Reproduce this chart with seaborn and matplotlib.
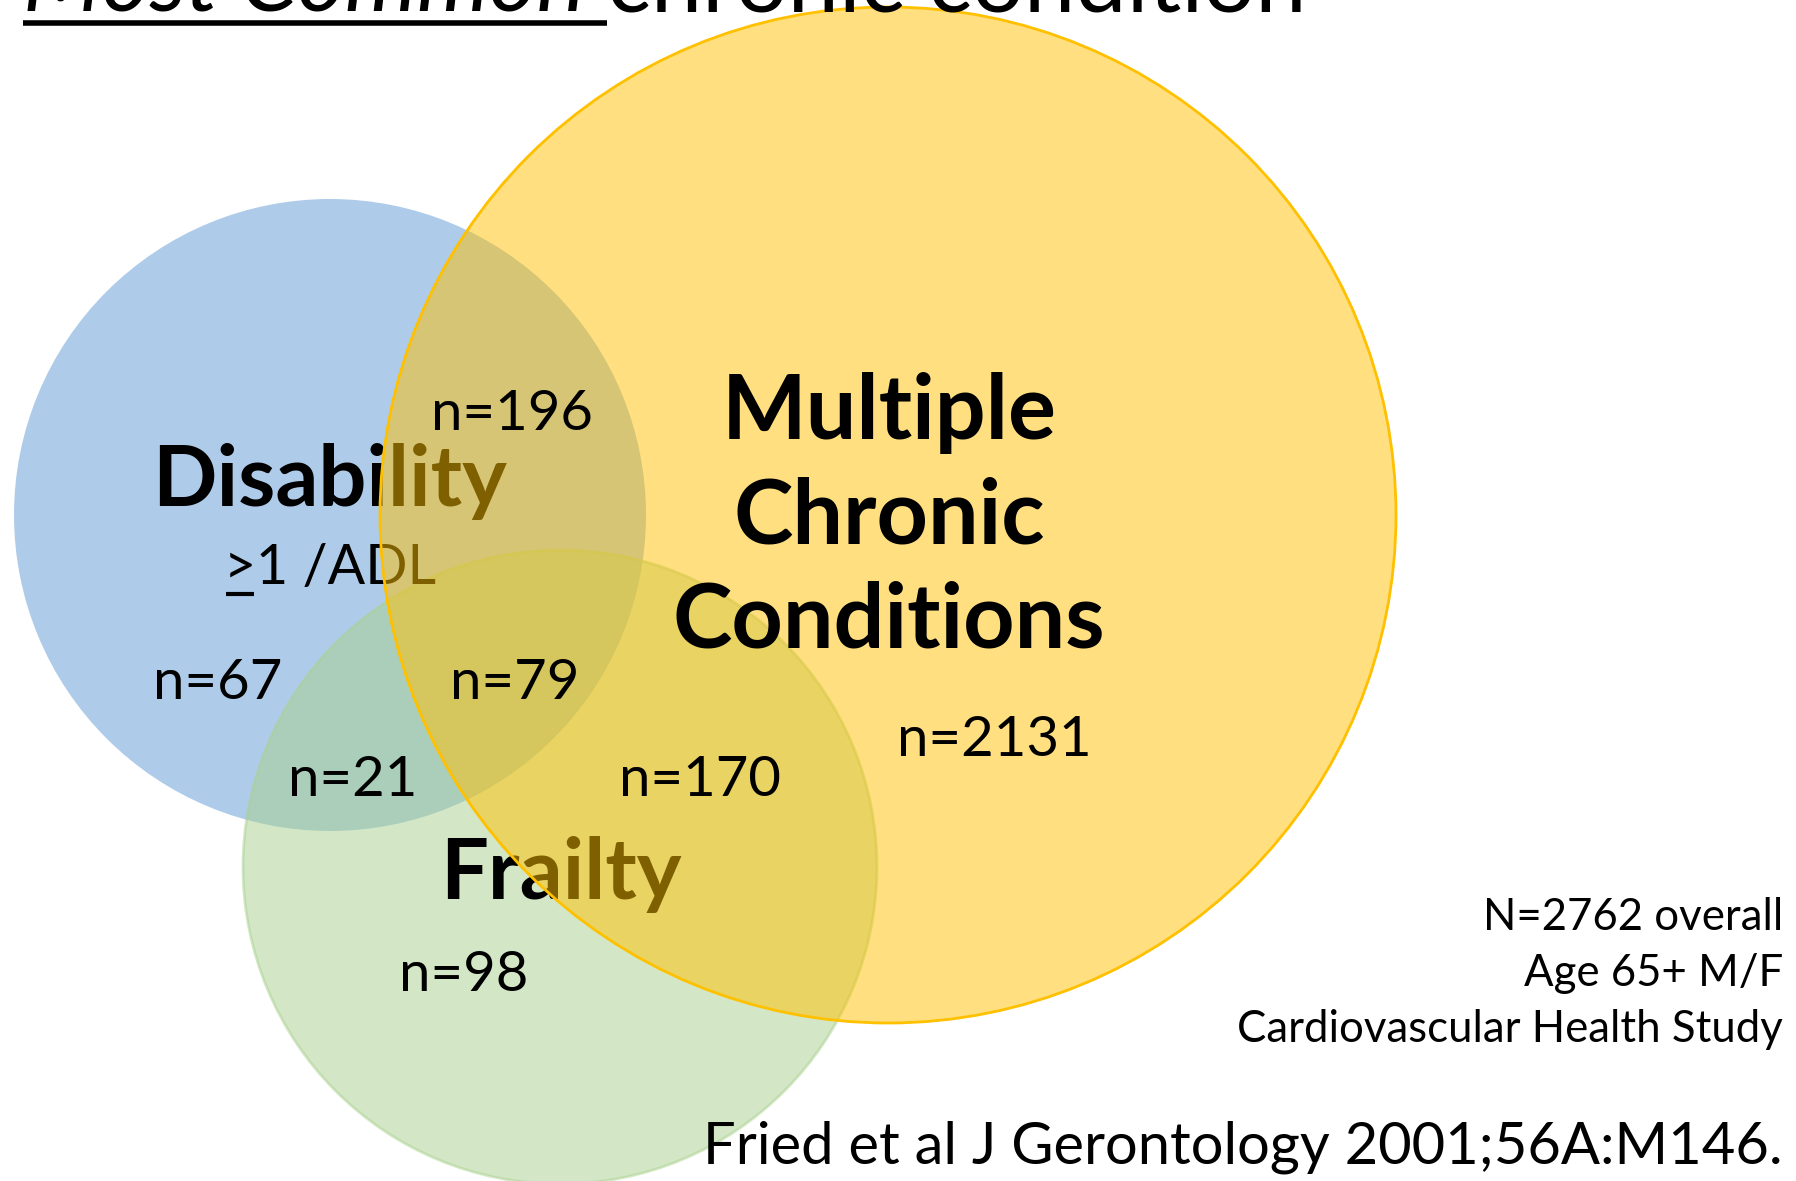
import matplotlib
matplotlib.use('Agg')
import matplotlib.pyplot as plt
from matplotlib.patches import Circle
import seaborn as sns

# ================= DATA =================
set_names = ['Disability', 'Frailty']
mcc_lines = ['Multiple', 'Chronic', 'Conditions']
region_labels = ['n=196', 'n=67', 'n=79', 'n=21', 'n=170', 'n=98', 'n=2131']
disability_sign = '>'
disability_note = '1 /ADL'
footnote_lines = ['N=2762 overall', 'Age 65+ M/F', 'Cardiovascular Health Study']
citation = 'Fried et al J Gerontology 2001;56A:M146.'
title_italic = 'Most Common '
title_rest = 'chronic condition'

# ================= LAYOUT (pixel space) =================
W, H = 1796, 1181
circle_xy = [(330, 515), (560, 867), (888, 515)]   # disability, frailty, MCC
circle_r = [316, 317, 508]
region_xy = [(512, 430), (218, 699), (515, 699), (353, 796), (700, 796),
             (464, 991), (994, 756)]
mcc_baselines = [439, 543, 648]

sns.set_theme(style='white')
plt.rcParams['font.family'] = ['Lato', 'DejaVu Sans']

fig = plt.figure(figsize=(W / 100, H / 100), dpi=100)
ax = fig.add_axes([0, 0, 1, 1])
ax.set_xlim(0, W)
ax.set_ylim(H, 0)
ax.axis('off')

blue = '#AECCE9'
green = '#A9D18E'
yellow = '#FFC000'

ax.add_patch(Circle(circle_xy[0], circle_r[0], facecolor=blue, edgecolor='none', zorder=1))
ax.add_patch(Circle(circle_xy[1], circle_r[1], facecolor=green, alpha=0.5,
                    edgecolor=green, lw=2, zorder=2))
ax.add_patch(Circle(circle_xy[2], circle_r[2], facecolor=yellow, alpha=0.5,
                    edgecolor='none', zorder=4))
ax.add_patch(Circle(circle_xy[2], circle_r[2], facecolor='none',
                    edgecolor=yellow, lw=2, zorder=4))

# labels that sit underneath the yellow circle
ax.text(330, 506, set_names[0], fontsize=61, fontweight='bold', ha='center',
        va='baseline', color='black', zorder=3)
ax.text(561, 899, set_names[1], fontsize=61, fontweight='bold', ha='center',
        va='baseline', color='black', zorder=3)

# ">1 /ADL" with the ">" underlined
t_sign = ax.text(0, 584, disability_sign, fontsize=40, ha='left', va='baseline',
                 color='black', zorder=3)
t_note = ax.text(0, 584, disability_note, fontsize=40, ha='left', va='baseline',
                 color='black', zorder=3)
fig.canvas.draw()
inv = ax.transData.inverted()
bs = t_sign.get_window_extent().transformed(inv)
bn = t_note.get_window_extent().transformed(inv)
w_sign = bs.x1 - bs.x0
w_note = bn.x1 - bn.x0
x_start = 330 - (w_sign + w_note) / 2
t_sign.set_x(x_start)
t_note.set_x(x_start + w_sign)
ax.plot([x_start + 2, x_start + w_sign - 2], [594, 594], color='black', lw=3,
        solid_capstyle='butt', zorder=3)

# labels on top
for line, y in zip(mcc_lines, mcc_baselines):
    ax.text(889, y, line, fontsize=64.5, fontweight='bold', ha='center',
            va='baseline', color='black', zorder=5)
for lab, (x, y) in zip(region_labels, region_xy):
    ax.text(x, y, lab, fontsize=40.5, ha='center', va='baseline', color='black', zorder=5)

for i, line in enumerate(footnote_lines):
    ax.text(1783, 930 + i * 56, line, fontsize=31.5, ha='right', va='baseline',
            color='black', zorder=5)
ax.text(1783, 1163, citation, fontsize=41.7, ha='right', va='baseline',
        color='black', zorder=5)

# title, cut at the top edge
t1 = ax.text(23, 12, title_italic, fontsize=66, fontstyle='italic', ha='left',
             va='baseline', color='black', zorder=5)
ax.annotate(title_rest, xy=(1, 0), xycoords=t1, fontsize=66, ha='left',
            va='bottom', color='black', zorder=5)
fig.canvas.draw()
bb = t1.get_window_extent().transformed(ax.transData.inverted())
ax.plot([bb.x0, bb.x1], [23, 23], color='black', lw=4, zorder=5,
        solid_capstyle='butt')

fig.savefig('out.png', dpi=100)
